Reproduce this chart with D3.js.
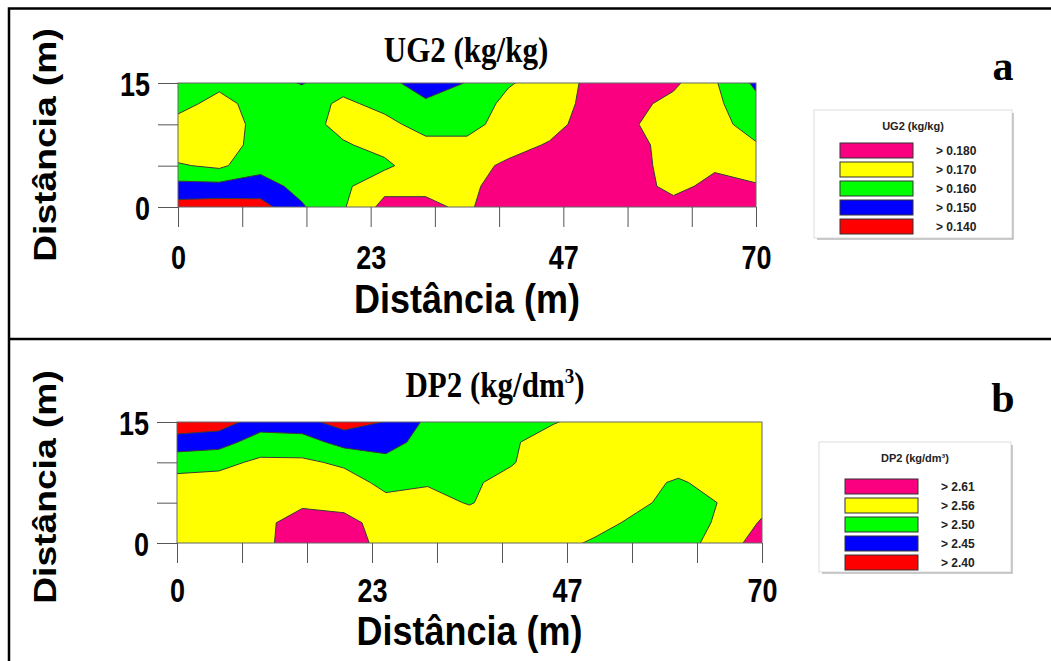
<!DOCTYPE html>
<html>
<head>
<meta charset="utf-8">
<script src="https://cdn.jsdelivr.net/npm/d3@7"></script>
<style>
  body { margin: 0; background: #fff; }
  svg { display: block; }
  .tick text { font-family: "Liberation Sans", Arial, sans-serif; font-weight: bold; }
</style>
</head>
<body>
<svg id="chart" width="1051" height="661"></svg>
<script>
// grid: columns every 5 m along x (0..70), rows every 2.5 m along y, first row is y = 15
const gridX = d3.range(0, 71, 5);
const gridY = [15, 12.5, 10, 7.5, 5, 2.5, 0];

const ug2Values = [
  [0.164, 0.167, 0.164, 0.1595, 0.166, 0.164, 0.154, 0.1605, 0.169, 0.175, 0.182, 0.186, 0.182, 0.171, 0.158],
  [0.166, 0.174, 0.165, 0.165, 0.172, 0.167, 0.162, 0.163, 0.173, 0.175, 0.183, 0.183, 0.177, 0.172, 0.163],
  [0.174, 0.177, 0.166, 0.166, 0.173, 0.173, 0.166, 0.166, 0.175, 0.176, 0.185, 0.181, 0.175, 0.174, 0.165],
  [0.176, 0.177, 0.165, 0.166, 0.169, 0.173, 0.173, 0.173, 0.176, 0.181, 0.188, 0.184, 0.175, 0.175, 0.171],
  [0.169, 0.172, 0.163, 0.165, 0.166, 0.168, 0.176, 0.176, 0.182, 0.186, 0.190, 0.185, 0.175, 0.178, 0.175],
  [0.157, 0.157, 0.156, 0.163, 0.168, 0.177, 0.176, 0.176, 0.188, 0.190, 0.190, 0.186, 0.176, 0.184, 0.181],
  [0.146, 0.145, 0.146, 0.159, 0.169, 0.183, 0.184, 0.1766, 0.1955, 0.192, 0.190, 0.186, 0.185, 0.188, 0.186]
];
const ug2Thresholds = [0.140, 0.150, 0.160, 0.170, 0.180];
const ug2Labels = ["> 0.140", "> 0.150", "> 0.160", "> 0.170", "> 0.180"];

const dp2Values = [
  [2.42, 2.43, 2.47, 2.465, 2.43, 2.452, 2.51, 2.52, 2.53, 2.555, 2.59, 2.595, 2.60, 2.60, 2.60],
  [2.47, 2.475, 2.53, 2.525, 2.48, 2.48, 2.52, 2.525, 2.55, 2.595, 2.595, 2.60, 2.60, 2.60, 2.60],
  [2.532, 2.545, 2.57, 2.57, 2.55, 2.515, 2.53, 2.535, 2.555, 2.60, 2.60, 2.60, 2.59, 2.595, 2.595],
  [2.582, 2.58, 2.585, 2.585, 2.585, 2.545, 2.555, 2.55, 2.58, 2.60, 2.60, 2.58, 2.552, 2.585, 2.595],
  [2.585, 2.59, 2.59, 2.60, 2.595, 2.575, 2.58, 2.556, 2.59, 2.595, 2.595, 2.575, 2.535, 2.562, 2.595],
  [2.59, 2.59, 2.595, 2.635, 2.625, 2.59, 2.59, 2.59, 2.59, 2.59, 2.585, 2.545, 2.525, 2.57, 2.615],
  [2.59, 2.59, 2.595, 2.64, 2.64, 2.59, 2.59, 2.59, 2.59, 2.585, 2.55, 2.53, 2.525, 2.592, 2.625]
];
const dp2Thresholds = [2.40, 2.45, 2.50, 2.56, 2.61];
const dp2Labels = ["> 2.40", "> 2.45", "> 2.50", "> 2.56", "> 2.61"];

const classColors = ["#ff0000", "#0000ff", "#00ff00", "#ffff00", "#fa0080"];

const xTickValues = d3.range(10).map(i => i * 70 / 9);
const xTickLabels = ["0", "23", "47", "70"];
const yTickValues = [0, 5, 10, 15];
const yTickLabels = { 0: "0", 15: "15" };

const sans = "'Liberation Sans', Arial, sans-serif";
const serif = "'Liberation Serif', 'Times New Roman', serif";
const svg = d3.select("#chart");

// outer frame
svg.append("path")
  .attr("d", "M9,661V8.5H1051M9,339H1051")
  .attr("fill", "none").attr("stroke", "#000").attr("stroke-width", 2.5);

function drawPanel(p) {
  const x = d3.scaleLinear().domain([0, 70]).range([p.left, p.right]);
  const y = d3.scaleLinear().domain([0, 15]).range([p.bottom, p.top]);
  const nx = gridX.length, ny = gridY.length;
  const gx = d3.scaleLinear().domain([0.5, nx - 0.5]).range([x(0), x(70)]);
  const gy = d3.scaleLinear().domain([0.5, ny - 0.5]).range([y(15), y(0)]);

  const g = svg.append("g");
  g.append("clipPath").attr("id", "clip-" + p.id)
    .append("rect").attr("x", p.left).attr("y", p.top)
    .attr("width", p.right - p.left).attr("height", p.bottom - p.top);

  const contours = d3.contours().size([nx, ny]).thresholds(p.thresholds)(p.values.flat());
  const path = d3.geoPath(d3.geoTransform({
    point(px, py) { this.stream.point(gx(px), gy(py)); }
  }));

  g.append("g").attr("clip-path", `url(#clip-${p.id})`)
    .selectAll("path").data(contours).enter().append("path")
      .attr("d", path)
      .attr("fill", (d, i) => classColors[i])
      .attr("stroke", "#3a3a3a").attr("stroke-width", 1);

  g.append("rect").attr("x", p.left).attr("y", p.top)
    .attr("width", p.right - p.left).attr("height", p.bottom - p.top)
    .attr("fill", "none").attr("stroke", "#666").attr("stroke-width", 1);

  const xAxis = g.append("g").attr("transform", `translate(0,${p.bottom})`)
    .call(d3.axisBottom(x).tickValues(xTickValues).tickSize(20).tickSizeOuter(0)
      .tickFormat((d, i) => i % 3 === 0 ? xTickLabels[i / 3] : ""));
  xAxis.select(".domain").remove();
  xAxis.selectAll(".tick line").attr("stroke", "#555");
  xAxis.selectAll(".tick text").attr("font-size", 27).attr("fill", "#000")
    .attr("y", 0).attr("dy", 0)
    .attr("transform", `translate(0,${p.xLabelBase}) scale(1,1.2)`);

  const yAxis = g.append("g").attr("transform", `translate(${p.left},0)`)
    .call(d3.axisLeft(y).tickValues(yTickValues).tickSize(20).tickSizeOuter(0)
      .tickFormat(d => yTickLabels[d] || ""));
  yAxis.select(".domain").remove();
  yAxis.selectAll(".tick line").attr("stroke", "#555");
  yAxis.selectAll(".tick text").attr("font-size", 27).attr("fill", "#000")
    .attr("x", 0).attr("dy", 0)
    .attr("transform", "translate(-28,12) scale(1,1.2)");

  g.append("text")
    .attr("transform", `translate(${(p.left + p.right) / 2},${p.xTitleBase}) scale(1,1.12)`)
    .attr("text-anchor", "middle")
    .attr("font-family", sans).attr("font-weight", "bold")
    .attr("font-size", 36).text("Distância (m)");

  g.append("text")
    .attr("transform", `translate(${p.ytitleX},${p.ytitleY}) scale(1,1.2) rotate(-90)`)
    .attr("text-anchor", "middle")
    .attr("font-family", sans).attr("font-weight", "bold")
    .attr("font-size", 31).text("Distância (m)");

  const title = g.append("text")
    .attr("transform", `translate(${p.titleX},${p.titleY}) scale(1,1.15)`)
    .attr("text-anchor", "middle")
    .attr("font-family", serif).attr("font-weight", "bold")
    .attr("font-size", 31);
  title.append("tspan").text(p.title);
  if (p.titleSup) {
    title.append("tspan").attr("font-size", 19).attr("dy", -12).text(p.titleSup);
    title.append("tspan").attr("dy", 12).text(")");
  }

  g.append("text").attr("x", 1003).attr("y", p.letterY)
    .attr("text-anchor", "middle")
    .attr("font-family", serif).attr("font-weight", "bold")
    .attr("font-size", 42).text(p.letter);

  // legend
  const lg = g.append("g").attr("transform", `translate(${p.legendX},${p.legendY})`);
  lg.append("rect").attr("x", 0).attr("y", 0).attr("width", p.legendW).attr("height", p.legendH)
    .attr("fill", "#fff").attr("stroke", "#ddd");
  lg.append("path")
    .attr("d", `M${p.legendW + 1},3V${p.legendH + 1}H3`)
    .attr("fill", "none").attr("stroke", "#bbb").attr("stroke-width", 1.5);
  lg.append("text").attr("x", p.legendW / 2).attr("y", 20).attr("text-anchor", "middle")
    .attr("font-family", sans).attr("font-weight", "bold")
    .attr("font-size", 11).attr("fill", "#222").text(p.legendTitle);
  const items = d3.range(p.thresholds.length).reverse();
  const row = lg.selectAll(".item").data(items).enter().append("g")
    .attr("transform", (d, i) => `translate(0,${p.swatchY + i * 19})`);
  row.append("rect").attr("x", p.swatchX).attr("y", 0).attr("width", 73).attr("height", 15)
    .attr("fill", d => classColors[d]).attr("stroke", "#333").attr("stroke-width", 1);
  row.append("text").attr("x", p.swatchX + 96).attr("y", 12)
    .attr("font-family", sans).attr("font-weight", "bold")
    .attr("font-size", 12).attr("fill", "#222").text(d => p.labels[d]);
}

drawPanel({
  id: "a", left: 178, right: 756, top: 83, bottom: 207,
  values: ug2Values, thresholds: ug2Thresholds, labels: ug2Labels,
  xLabelBase: 62, xTitleBase: 313,
  title: "UG2 (kg/kg)", titleX: 466, titleY: 62, letter: "a", letterY: 80,
  ytitleX: 56, ytitleY: 145,
  legendX: 814, legendY: 110, legendW: 198, legendH: 128, legendTitle: "UG2 (kg/kg)",
  swatchX: 26, swatchY: 33
});

drawPanel({
  id: "b", left: 177, right: 762, top: 422, bottom: 543,
  values: dp2Values, thresholds: dp2Thresholds, labels: dp2Labels,
  xLabelBase: 59, xTitleBase: 645,
  title: "DP2 (kg/dm", titleSup: "3", titleX: 495, titleY: 397, letter: "b", letterY: 412,
  ytitleX: 56, ytitleY: 487,
  legendX: 819, legendY: 442, legendW: 192, legendH: 130, legendTitle: "DP2 (kg/dm³)",
  swatchX: 26, swatchY: 37
});
</script>
</body>
</html>
